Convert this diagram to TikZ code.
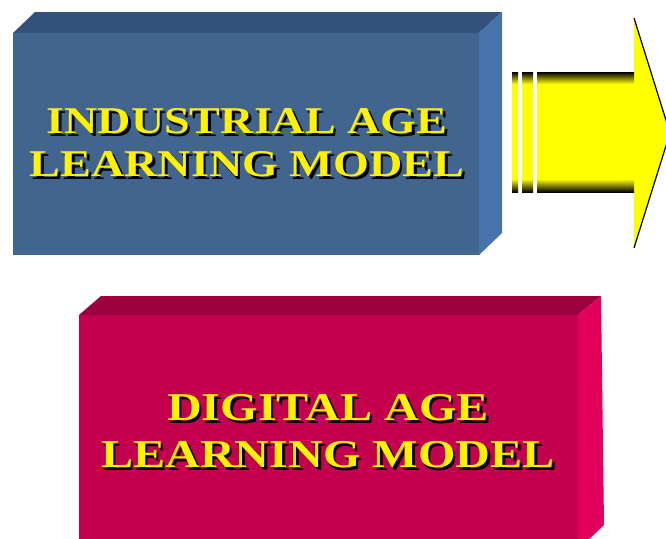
\documentclass[tikz,border=0pt]{standalone}
\usepackage{fontspec}
\setmainfont{Liberation Serif}
\definecolor{indfront}{HTML}{42658F}
\definecolor{indtop}{HTML}{34507C}
\definecolor{indside}{HTML}{4674AA}
\definecolor{digfront}{HTML}{C2004D}
\definecolor{digtop}{HTML}{9E003D}
\definecolor{digside}{HTML}{E2005A}
\definecolor{arrowyellow}{HTML}{FFFF00}
\newcommand{\shadowline}[1]{\rlap{\kern2.2pt\raisebox{-2.5pt}{\color{black}#1}}#1}
\tikzset{
  boxtext/.style={align=center, inner sep=0pt, xscale=1.22, text=yellow},
  indfont/.style={font=\bfseries\fontsize{37.8}{43}\selectfont},
  digfont/.style={font=\bfseries\fontsize{39.5}{47}\selectfont},
}
\begin{document}
\begin{tikzpicture}[x=1pt,y=-1pt]
    \useasboundingbox (0,0) rectangle (666,538);
    \clip (0,0) rectangle (666,538);
    \fill[indfront] (13,33) rectangle (479,255);
    \fill[indtop] (13,33) -- (35,12) -- (502,12) -- (479,33) -- cycle;
    \fill[indside] (479,33) -- (502,12) -- (502,233) -- (479,255) -- cycle;
    \node[boxtext, indfont] (indtext) at (247,144) {\shadowline{INDUSTRIAL AGE}\\\shadowline{LEARNING MODEL}};
    \fill[digfront] (79,315) rectangle (578,560);
    \fill[digtop] (79,315) -- (101,296) -- (601,296) -- (578,315) -- cycle;
    \fill[digside] (578,315) -- (601,296) -- (604,525) -- (578,550) -- cycle;
    \node[boxtext, digfont] (digtext) at (328,432.5) {\shadowline{DIGITAL AGE}\\\shadowline{LEARNING MODEL}};
    \fill[arrowyellow] (537,72) -- (634,72) -- (634,18) -- (670,133) -- (634,248) -- (634,192) -- (537,192) -- cycle;
    \draw[line width=1.2pt] (634,18) -- (670,133) -- (634,248);
    \fill[arrowyellow] (512,72) rectangle (518,192);
    \fill[arrowyellow] (522,72) rectangle (533,192);
    \foreach \xa/\xb in {512/518, 522/533, 537/634} {
        \shade[top color=black, bottom color=arrowyellow] (\xa,72) rectangle (\xb,84);
        \shade[top color=arrowyellow, bottom color=black] (\xa,179) rectangle (\xb,192);
    }
\end{tikzpicture}
\end{document}
